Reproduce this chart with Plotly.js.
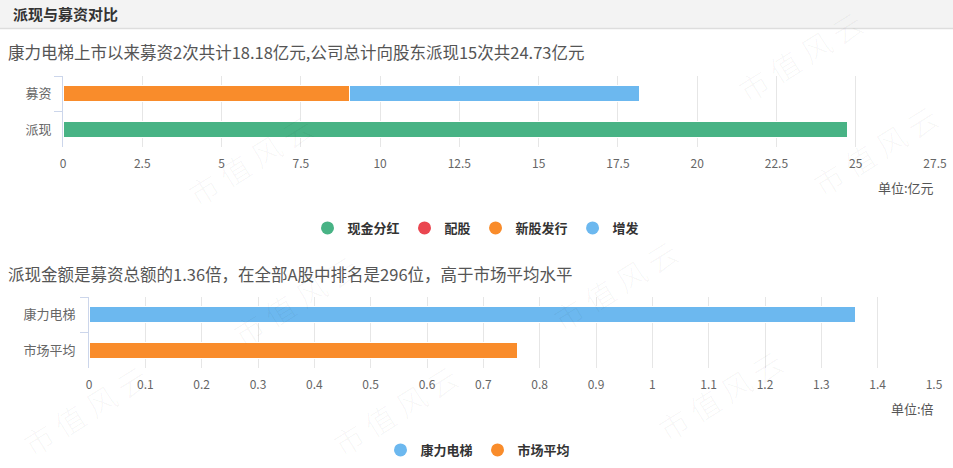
<!DOCTYPE html>
<html>
<head>
<meta charset="utf-8">
<script src="https://cdn.plot.ly/plotly-3.0.1.min.js"></script>
<style>
  html, body { margin: 0; padding: 0; background: #fff; }
  #chart { width: 953px; height: 468px; }
</style>
</head>
<body>
<div id="chart"></div>
<script>
// ---------- data ----------
var headerTitle = '派现与募资对比';
var subtitle1 = '康力电梯上市以来募资2次共计18.18亿元,公司总计向股东派现15次共24.73亿元';
var subtitle2 = '派现金额是募资总额的1.36倍，在全部A股中排名是296位，高于市场平均水平';
var unit1 = '单位:亿元';
var unit2 = '单位:倍';

var categories1 = ['募资', '派现'];
var seriesNames1 = ['现金分红', '配股', '新股发行', '增发'];
var cashDividend = [null, 24.73];
var rightsIssue = [null, null];
var ipoIssue = [9.05, null];
var additionalIssue = [9.13, null];

var categories2 = ['康力电梯', '市场平均'];
var companyRatio = [1.36, null];
var marketRatio = [null, 0.76];

var watermarkText = '市 值 风 云';

// ---------- styles ----------
var W = 953, H = 468;
function px(x) { return x / W; }
function py(y) { return 1 - y / H; }

var FONT = '"Noto Sans CJK SC", "Microsoft YaHei", sans-serif';
var cGreen = '#48b385', cRed = '#ea4650', cOrange = '#f98c2b', cBlue = '#6cb8ef';

function bar(name, x, y, color, xa, ya) {
  return {
    type: 'bar', orientation: 'h', name: name, x: x, y: y,
    xaxis: xa, yaxis: ya, width: 0.45,
    marker: { color: color, line: { color: '#ffffff', width: 1 } },
    showlegend: false, hoverinfo: 'x+y+name'
  };
}
function legendDot(name, color, xa, ya, legend) {
  return {
    type: 'scatter', mode: 'markers', name: name, x: [null], y: [null],
    xaxis: xa, yaxis: ya, legend: legend,
    marker: { color: color, size: 13, symbol: 'circle' },
    showlegend: true
  };
}

var traces = [
  bar(seriesNames1[0], cashDividend, categories1, cGreen, 'x', 'y'),
  bar(seriesNames1[1], rightsIssue, categories1, cRed, 'x', 'y'),
  bar(seriesNames1[2], ipoIssue, categories1, cOrange, 'x', 'y'),
  bar(seriesNames1[3], additionalIssue, categories1, cBlue, 'x', 'y'),
  legendDot(seriesNames1[0], cGreen, 'x', 'y', 'legend'),
  legendDot(seriesNames1[1], cRed, 'x', 'y', 'legend'),
  legendDot(seriesNames1[2], cOrange, 'x', 'y', 'legend'),
  legendDot(seriesNames1[3], cBlue, 'x', 'y', 'legend'),
  bar(categories2[0], companyRatio, categories2, cBlue, 'x2', 'y2'),
  bar(categories2[1], marketRatio, categories2, cOrange, 'x2', 'y2'),
  legendDot(categories2[0], cBlue, 'x2', 'y2', 'legend2'),
  legendDot(categories2[1], cOrange, 'x2', 'y2', 'legend2')
];

var xAxisCommon = {
  showgrid: true, gridcolor: '#e6e6e6', gridwidth: 1,
  zeroline: false, showline: false, ticks: '',
  tickfont: { family: FONT, size: 12, color: '#666' },
  ticklabelstandoff: 8, fixedrange: true
};
var yAxisCommon = {
  type: 'category', autorange: 'reversed',
  showgrid: false, zeroline: false,
  showline: true, linecolor: '#ccd6eb', linewidth: 1,
  ticks: 'outside', tickson: 'boundaries', ticklen: 8, tickcolor: '#ccd6eb',
  tickfont: { family: FONT, size: 13, color: '#666' },
  fixedrange: true
};

var xaxis = Object.assign({}, xAxisCommon, {
  domain: [px(63), px(935)], range: [0, 27.5], dtick: 2.5, tick0: 0, anchor: 'y'
});
var yaxis = Object.assign({}, yAxisCommon, {
  domain: [py(147), py(76)], anchor: 'x', ticklabelstandoff: 8
});
var xaxis2 = Object.assign({}, xAxisCommon, {
  domain: [px(89), px(934)], range: [0, 1.5], dtick: 0.1, tick0: 0, anchor: 'y2'
});
var yaxis2 = Object.assign({}, yAxisCommon, {
  domain: [py(368), py(297)], anchor: 'x2', ticklabelstandoff: 10
});

var legendCommon = {
  orientation: 'h', xanchor: 'center', yanchor: 'middle', traceorder: 'normal',
  font: { family: FONT, size: 13, color: '#333', weight: 'bold' },
  bgcolor: 'rgba(0,0,0,0)', itemclick: false, itemdoubleclick: false
};

var annotations = [
  { text: headerTitle, xref: 'paper', yref: 'paper', x: px(11), y: py(13),
    xanchor: 'left', yanchor: 'middle', showarrow: false,
    font: { family: FONT, size: 15, color: '#333', weight: 'bold' } },
  { text: subtitle1, xref: 'paper', yref: 'paper', x: px(6), y: py(52),
    xanchor: 'left', yanchor: 'middle', showarrow: false,
    font: { family: FONT, size: 16.5, color: '#555' } },
  { text: subtitle2, xref: 'paper', yref: 'paper', x: px(6), y: py(274),
    xanchor: 'left', yanchor: 'middle', showarrow: false,
    font: { family: FONT, size: 16.5, color: '#555' } },
  { text: unit1, xref: 'paper', yref: 'paper', x: px(936), y: py(187),
    xanchor: 'right', yanchor: 'middle', showarrow: false,
    font: { family: FONT, size: 13, color: '#555' } },
  { text: unit2, xref: 'paper', yref: 'paper', x: px(936), y: py(408),
    xanchor: 'right', yanchor: 'middle', showarrow: false,
    font: { family: FONT, size: 13, color: '#555' } }
];

var wmCenters = [[250, 160], [800, 56], [875, 150], [295, 300], [615, 285],
                 [395, 410], [720, 395], [85, 410]];
wmCenters.forEach(function (c) {
  annotations.push({
    text: watermarkText, xref: 'paper', yref: 'paper', x: px(c[0]), y: py(c[1]),
    xanchor: 'center', yanchor: 'middle', showarrow: false, textangle: -32,
    font: { family: FONT, size: 30, color: 'rgba(0,0,0,0.04)', weight: 300 }
  });
});

var layout = {
  width: W, height: H,
  margin: { l: 0, r: 0, t: 0, b: 0 },
  paper_bgcolor: '#ffffff', plot_bgcolor: 'rgba(0,0,0,0)',
  barmode: 'stack', bargap: 0.55,
  font: { family: FONT, color: '#333' },
  xaxis: xaxis, yaxis: yaxis, xaxis2: xaxis2, yaxis2: yaxis2,
  legend: Object.assign({}, legendCommon, { x: px(476), y: py(228) }),
  legend2: Object.assign({}, legendCommon, { x: px(478), y: py(450) }),
  shapes: [
    { type: 'rect', xref: 'paper', yref: 'paper', x0: 0, x1: 1, y0: py(28), y1: 1,
      fillcolor: '#f3f3f3', line: { width: 0 }, layer: 'below' },
    { type: 'line', xref: 'paper', yref: 'paper', x0: 0, x1: 1, y0: py(28.5), y1: py(28.5),
      line: { color: '#dddddd', width: 1.5 }, layer: 'below' }
  ],
  annotations: annotations,
  showlegend: true
};

Plotly.newPlot('chart', traces, layout, { displayModeBar: false, staticPlot: false });
</script>
</body>
</html>
